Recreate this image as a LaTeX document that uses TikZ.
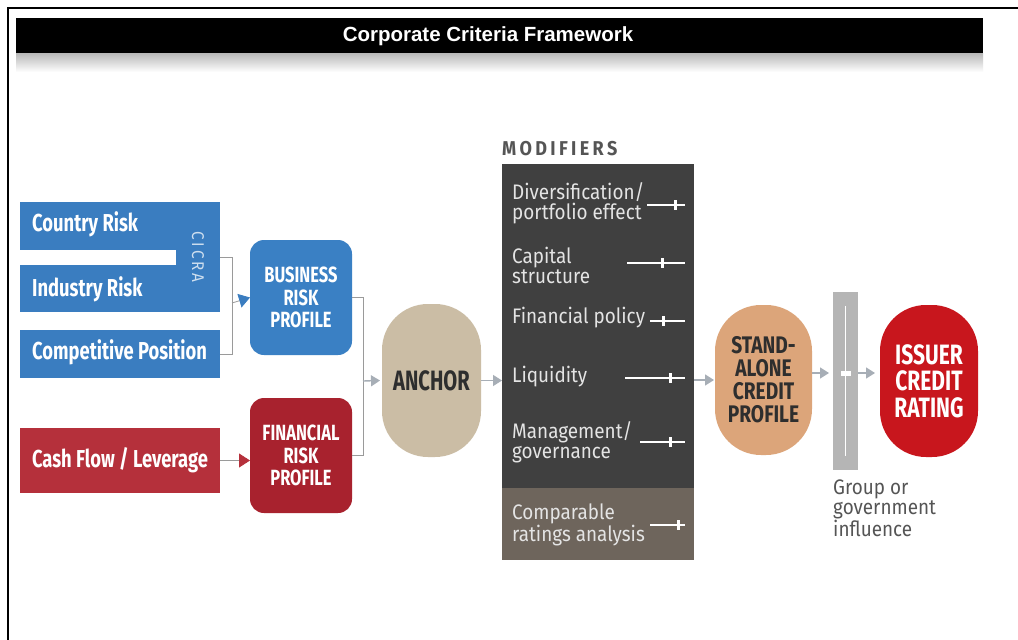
\documentclass[tikz,border=0pt]{standalone}
\usepackage{fontspec}
\setmainfont{Fira Sans}
\newfontfamily\titlefont{Liberation Sans}
\newfontfamily\condfont[FakeStretch=0.75]{Fira Sans}
\newfontfamily\pillfont[FakeStretch=0.72]{Fira Sans}
\newfontfamily\safont[FakeStretch=0.8]{Fira Sans}
\newfontfamily\dinfont[FakeStretch=0.9]{Fira Sans}
\usetikzlibrary{arrows.meta,positioning}
\definecolor{blueC}{HTML}{3A7DC0}
\definecolor{blueD}{HTML}{3A80C4}
\definecolor{redC}{HTML}{B5303B}
\definecolor{redD}{HTML}{A8222E}
\definecolor{anchorC}{HTML}{CBBDA5}
\definecolor{modC}{HTML}{404040}
\definecolor{compC}{HTML}{6E655C}
\definecolor{saC}{HTML}{DCA57A}
\definecolor{issC}{HTML}{C8161D}
\definecolor{sliderC}{HTML}{B5B5B5}
\definecolor{arrC}{HTML}{A7AEB6}
\definecolor{lineC}{HTML}{9A9A9A}
\definecolor{txtD}{HTML}{2E2E2E}
\definecolor{modT}{HTML}{E4E4E4}
\definecolor{grpT}{HTML}{555555}
\tikzset{
  box/.style={inner sep=0pt, outer sep=0pt},
  inbox/.style={box, fill=blueC},
  intext/.style={anchor=west, text=white, inner sep=0pt, font=\condfont\bfseries\fontsize{24.5}{26}\selectfont},
  profile/.style={box, rounded corners=14pt, minimum width=102pt, text=white, align=center, font=\condfont\bfseries\fontsize{22}{22.5}\selectfont},
  pill/.style={box, rounded corners=46pt, align=center},
  modtext/.style={anchor=west, align=left, text=modT, inner sep=0pt, font=\dinfont\fontsize{21}{20}\selectfont},
  conn/.style={draw=lineC, line width=0.8pt},
  garrow/.style={draw=arrC, line width=1.4pt, -{Triangle[width=11pt,length=9pt,color=arrC]}},
  slide/.style={draw=white, line width=1.6pt},
  tick/.style={fill=white, minimum width=3pt, minimum height=10pt, inner sep=0pt},
}
\begin{document}
\begin{tikzpicture}[x=1pt,y=-1pt]
\useasboundingbox (0,0) rectangle (1018,640);
\fill[white] (0,0) rectangle (1018,640);
% frame
\draw[line width=2pt] (1018,8) -- (8,8) -- (8,640);
% title bar shadow and bar
\shade[top color=black!28, bottom color=white] (16,53) rectangle (983,72);
\node[box, fill=black, minimum width=967pt, minimum height=35pt] (title) at (499.5,35.5) {};
\node[text=white, inner sep=0pt, font=\titlefont\bfseries\fontsize{20.5}{22}\selectfont] (titleT) at (488,36) {Corporate Criteria Framework};

% left input boxes
\node[inbox, minimum width=156pt, minimum height=48pt] (country) at (98,226) {};
\node[intext] (countryT) at (32,224) {Country Risk};
\node[inbox, minimum width=156pt, minimum height=47pt] (industry) at (98,288.5) {};
\node[intext] (industryT) at (32,289) {Industry Risk};
\node[inbox, minimum width=44pt, minimum height=110pt] (cicra) at (198,257) {};
\node[text=white!75!blueC, rotate=-90, inner sep=0pt, font=\dinfont\fontsize{17}{18}\selectfont] (cicraT) at (198,257) {C\,I\,C\,R\,A};
\node[inbox, minimum width=200pt, minimum height=48pt] (comp) at (120,354) {};
\node[intext] (compT) at (32,352) {Competitive Position};
\node[box, fill=redC, minimum width=200pt, minimum height=65pt, text=white, font=\condfont\bfseries\fontsize{24.5}{26}\selectfont] (cash) at (120,460.5) {Cash Flow / Leverage};

% profiles
\node[profile, fill=blueD, minimum height=115pt] (brp) at (301,297.5) {BUSINESS\\RISK\\PROFILE};
\node[profile, fill=redD, minimum height=115pt] (frp) at (301,455.5) {FINANCIAL\\RISK\\PROFILE};

% left bracket
\coordinate (bx) at (232,303);
\draw[conn] (cicra.east) -| (bx);
\draw[conn] (comp.east) -| (bx);
\draw[conn, -{Triangle[width=14pt,length=11pt,color=blueC]}] (bx) -- (brp.west);
\draw[conn, -{Triangle[width=14pt,length=11pt,color=redC]}] (cash.east) -- (cash.east -| frp.west);

% anchor
\node[pill, fill=anchorC, minimum width=99pt, minimum height=153pt, text=txtD, font=\pillfont\bfseries\fontsize{28}{28}\selectfont] (anchor) at (431.5,380.5) {ANCHOR};
\coordinate (ax) at (363,381);
\draw[conn] (brp.east) -| (ax);
\draw[conn] (frp.east) -| (ax);
\draw[garrow] (ax) -- ([xshift=-2pt]anchor.west);

% modifiers
\node[anchor=south west, inner sep=0pt, text=grpT, font=\dinfont\bfseries\fontsize{20}{22}\selectfont] (modlab) at (502,156) {M\,O\,D\,I\,F\,I\,E\,R\,S};
\node[box, fill=modC, minimum width=192pt, minimum height=396pt] (mod) at (598,362) {};
\node[box, fill=compC, minimum width=192pt, minimum height=72pt] (compar) at (598,524) {};

\node[modtext] (m1) at (512,203) {Diversification/\\portfolio effect};
\draw[slide] (647,205) -- (685,205); \node[tick] (t1) at (675,205) {};
\node[modtext] (m2) at (512,265) {Capital\\structure};
\draw[slide] (627,263) -- (685,263); \node[tick] (t2) at (662,263) {};
\node[modtext] (m3) at (512,318) {Financial policy};
\draw[slide] (650,321) -- (685,321); \node[tick] (t3) at (663,321) {};
\node[modtext] (m4) at (512,377) {Liquidity};
\draw[slide] (625,378) -- (685,378); \node[tick] (t4) at (670,378) {};
\node[modtext] (m5) at (512,442) {Management/\\governance};
\draw[slide] (640,442) -- (685,442); \node[tick] (t5) at (670,442) {};
\node[modtext] (m6) at (512,525) {Comparable\\ratings analysis};
\draw[slide] (650,525) -- (685,525); \node[tick] (t6) at (678,525) {};

\draw[garrow] (anchor.east) -- (anchor.east -| mod.west);

% stand-alone
\node[pill, fill=saC, minimum width=97pt, minimum height=150pt, text=txtD, font=\safont\bfseries\fontsize{24}{23}\selectfont] (sa) at (763.5,380) {STAND-\\ALONE\\CREDIT\\PROFILE};
\draw[garrow] (mod.east |- sa.west) -- ([xshift=-1pt]sa.west);

% slider
\node[box, fill=sliderC, minimum width=25pt, minimum height=178pt] (slider) at (845.5,381) {};
\draw[draw=white, line width=1.5pt] ([yshift=-14pt]slider.north) -- ([yshift=14pt]slider.south);
\node[box, fill=white, minimum width=10pt, minimum height=5pt] (knob) at (845.5,373) {};
\draw[garrow] (sa.east |- knob) -- ([xshift=-4pt]slider.west |- knob);

% issuer
\node[pill, fill=issC, minimum width=98pt, minimum height=152pt, text=white, font=\condfont\bfseries\fontsize{28}{26.5}\selectfont] (issuer) at (929,381) {ISSUER\\CREDIT\\RATING};
\draw[garrow] (slider.east |- knob) -- ([xshift=-5pt]issuer.west |- knob);

\node[anchor=north west, align=left, inner sep=0pt, text=grpT, font=\dinfont\fontsize{21}{20}\selectfont] (grp) at (833,480) {Group or\\government\\influence};
\end{tikzpicture}
\end{document}
